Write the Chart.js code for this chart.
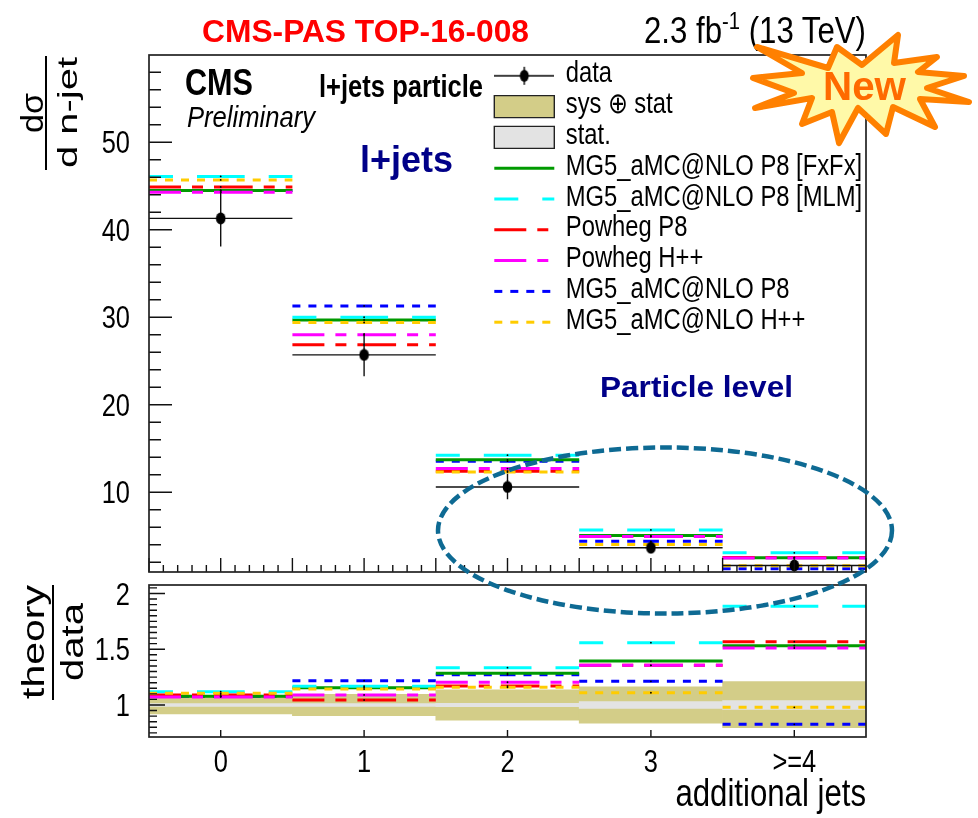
<!DOCTYPE html>
<html>
<head>
<meta charset="utf-8">
<title>CMS-PAS TOP-16-008</title>
<script src="https://cdn.jsdelivr.net/npm/chart.js@4"></script>
<style>
html,body{margin:0;padding:0;background:#fff;}
#wrap{position:relative;width:978px;height:818px;overflow:hidden;background:#fff;}
canvas{position:absolute;left:0;}
#top{top:0;}
#bottom{top:578px;}
svg{position:absolute;left:0;top:0;pointer-events:none;}
svg text{font-family:"Liberation Sans",Arial,sans-serif;fill:#000;}
</style>
</head>
<body>
<div id="wrap">
<canvas id="top" width="978" height="578"></canvas>
<canvas id="bottom" width="978" height="240"></canvas>
<svg width="978" height="818" viewBox="0 0 978 818">
  <text x="202" y="42" font-weight="bold" font-size="31" textLength="327" lengthAdjust="spacingAndGlyphs" style="fill:#ff0000">CMS-PAS TOP-16-008</text>
  <text x="644" y="43" font-size="37" textLength="222" lengthAdjust="spacingAndGlyphs">2.3 fb<tspan dy="-14" font-size="24">-1</tspan><tspan dy="14"> (13 TeV)</tspan></text>
  <text x="185" y="95" font-weight="bold" font-size="37" textLength="68" lengthAdjust="spacingAndGlyphs">CMS</text>
  <text x="187" y="127" font-style="italic" font-size="30" textLength="128" lengthAdjust="spacingAndGlyphs">Preliminary</text>
  <text x="319" y="97" font-weight="bold" font-size="31" textLength="164" lengthAdjust="spacingAndGlyphs">l+jets particle</text>
  <text x="360" y="172" font-weight="bold" font-size="36" textLength="93" lengthAdjust="spacingAndGlyphs" style="fill:#000088">l+jets</text>
  <text x="600" y="397" font-weight="bold" font-size="30" textLength="193" lengthAdjust="spacingAndGlyphs" style="fill:#000088">Particle level</text>

  <text transform="translate(43,133) rotate(-90)" font-size="31" textLength="40" lengthAdjust="spacingAndGlyphs">dσ</text>
  <line x1="46" y1="56" x2="46" y2="170" stroke="#000" stroke-width="2"/>
  <text transform="translate(76.5,168) rotate(-90)" font-size="28" textLength="111" lengthAdjust="spacingAndGlyphs">d n-jet</text>

  <text transform="translate(43.5,699) rotate(-90)" font-size="31" textLength="114" lengthAdjust="spacingAndGlyphs">theory</text>
  <line x1="53" y1="585" x2="53" y2="700" stroke="#000" stroke-width="2"/>
  <text transform="translate(82.5,681) rotate(-90)" font-size="31" textLength="78" lengthAdjust="spacingAndGlyphs">data</text>

  <ellipse cx="665" cy="530.5" rx="227" ry="83" fill="none" stroke="#0e6a93" stroke-width="4.5" stroke-dasharray="12 5"/>

  <polygon points="757,47 828,68 837,47 862,65 898,35 894,63 937,57 918,72 964,76 927,88 969,102 920,99 935,127 893,107 886,134 858,108 839,143 832,112 802,124 812,98 755,108 794,93 753,78 802,73"
           fill="#fff9a8" stroke="#ff8000" stroke-width="6" stroke-linejoin="round"/>
  <text x="823" y="100" font-weight="bold" font-size="40" textLength="83" lengthAdjust="spacingAndGlyphs" style="fill:#ff6a00">New</text>
</svg>
</div>
<script>
// ---------- data ----------
const binCenters = [0, 1, 2, 3, 4];
const xTickLabels = ['0', '1', '2', '3', '>=4'];

// upper panel: d sigma / d n-jet
const dataValues = [41.3, 25.7, 10.6, 3.65, 1.63];
const dataLow    = [38.1, 23.25, 9.2, 3.1, 1.2];
const dataHigh   = [44.5, 28.2, 12.1, 4.3, 2.2];

const fxfxTop   = [44.5, 29.7, 13.7, 5.04, 2.5];
const mlmTop    = [46.1, 30.0, 14.24, 5.69, 3.07];
const powP8Top  = [44.9, 26.85, 12.4, 4.93, 2.55];
const powHppTop = [44.3, 28.0, 12.7, 4.93, 2.47];
const mgP8Top   = [44.5, 31.3, 13.55, 4.39, 1.24];
const mgHppTop  = [45.7, 29.4, 12.3, 4.01, 1.59];

// lower panel: theory / data
const fxfxRatio   = [1.078, 1.155, 1.284, 1.394, 1.532];
const mlmRatio    = [1.119, 1.168, 1.335, 1.559, 1.885];
const powP8Ratio  = [1.09, 1.045, 1.17, 1.356, 1.568];
const powHppRatio = [1.072, 1.09, 1.204, 1.356, 1.511];
const mgP8Ratio   = [1.078, 1.218, 1.272, 1.212, 0.827];
const mgHppRatio  = [1.105, 1.143, 1.159, 1.11, 0.979];

const sysLow  = [0.919, 0.904, 0.865, 0.836, 0.796];
const sysHigh = [1.081, 1.096, 1.135, 1.164, 1.209];
const statLow  = [0.988, 0.988, 0.985, 0.97, 0.961];
const statHigh = [1.012, 1.012, 1.015, 1.03, 1.039];

const legendNames = ['data', 'sys \u2295 stat', 'stat.', 'MG5_aMC@NLO P8 [FxFx]', 'MG5_aMC@NLO P8 [MLM]',
                     'Powheg P8', 'Powheg H++', 'MG5_aMC@NLO P8', 'MG5_aMC@NLO H++'];

// ---------- styles ----------
const GREEN = '#009a00', CYAN = '#00ffff', RED = '#ff0000', MAGENTA = '#ff00ff', BLUE = '#0000ff', ORANGE = '#ffcc00';
const KHAKI = '#d3cd88', GREY = '#e3e3e3', FRAME = '#222222';
const DASH_MLM = [24, 24], DASH_POW = [32, 11, 11, 11], DASH_SHORT = [8, 8];
const LINE_W = 3;
const LABEL_FONT = '"Liberation Sans",Arial,sans-serif';
const NARROW = 0.82; // the original's labels are a condensed Helvetica
const TICK_SIZE = 31, LEGEND_SIZE = 29;

// condense all text the chart draws on this canvas, with small per-font offsets
function condense(canvas) {
  const ctx = canvas.getContext('2d');
  const fill = ctx.fillText.bind(ctx), measure = ctx.measureText.bind(ctx);
  ctx.fillText = (t, x, y) => {
    const size = parseInt(ctx.font.match(/(\d+)px/)[1], 10);
    const dx = size === LEGEND_SIZE ? -3 : 0;
    const dy = size === LEGEND_SIZE ? -1.5 : size === TICK_SIZE ? 2.5 : 0;
    ctx.save(); ctx.translate(x + dx, y + dy); ctx.scale(NARROW, 1); fill(t, 0, 0); ctx.restore();
  };
  ctx.measureText = t => {
    const m = measure(t);
    return {width: m.width * NARROW, actualBoundingBoxAscent: m.actualBoundingBoxAscent,
            actualBoundingBoxDescent: m.actualBoundingBoxDescent};
  };
  return canvas;
}

// ---------- helpers ----------
// every bin's line is drawn as two sub-paths (edge-centre, centre-edge), as in the original
function histPoints(values) {
  const pts = [];
  values.forEach((v, i) => {
    const c = binCenters[i];
    pts.push({x: c - 0.5, y: v}, {x: c, y: v}, {x: c, y: null}, {x: c, y: v}, {x: c + 0.5, y: v}, {x: c + 0.5, y: null});
  });
  return pts;
}
function lineDs(label, values, color, dash, width) {
  return {type: 'line', label, data: histPoints(values), borderColor: color, borderWidth: width || LINE_W,
          borderDash: dash || [], pointRadius: 0, fill: false, tension: 0, spanGaps: false};
}
function theoryDots(seriesList) {
  const pts = [];
  seriesList.forEach(s => s.forEach((v, i) => pts.push({x: binCenters[i], y: v})));
  return {type: 'line', label: 'theory stat', data: pts, showLine: false, pointRadius: 0.9,
          pointBackgroundColor: '#000', pointBorderWidth: 0};
}
function range(from, to, step) {
  const out = [];
  for (let k = 0; from + k * step <= to + 1e-9; k++) out.push(+(from + k * step).toFixed(4));
  return out;
}
function ellipseCanvas() {
  const c = document.createElement('canvas');
  c.width = 11; c.height = 13;
  const g = c.getContext('2d');
  g.fillStyle = '#000';
  g.beginPath(); g.ellipse(5.5, 6.5, 4.8, 6, 0, 0, Math.PI * 2); g.fill();
  return c;
}
function legendDataCanvas() {
  const c = document.createElement('canvas');
  c.width = 60; c.height = 20;
  const g = c.getContext('2d');
  g.strokeStyle = '#000'; g.fillStyle = '#000'; g.lineWidth = 1.4;
  g.beginPath(); g.moveTo(0, 10); g.lineTo(60, 10); g.moveTo(30, 1); g.lineTo(30, 19); g.stroke();
  g.beginPath(); g.ellipse(30, 10, 4.5, 6, 0, 0, Math.PI * 2); g.fill();
  return c;
}

// frame and inward-pointing ROOT style ticks, through the chart's scales
const rootAxes = {
  id: 'rootAxes',
  afterDatasetsDraw(chart, args, o) {
    const {ctx, chartArea: a, scales} = chart;
    ctx.save();
    ctx.strokeStyle = '#111'; ctx.lineWidth = 1.4;
    ctx.beginPath();
    o.yMinor.forEach(v => { const p = scales.y.getPixelForValue(v); ctx.moveTo(a.left, p); ctx.lineTo(a.left + o.yMinorLen, p); });
    o.yMajor.forEach(v => { const p = scales.y.getPixelForValue(v); ctx.moveTo(a.left, p); ctx.lineTo(a.left + o.yMajorLen, p); });
    o.xMinor.forEach(v => { const p = scales.x.getPixelForValue(v); ctx.moveTo(p, a.bottom); ctx.lineTo(p, a.bottom - o.xMinorLen); });
    o.xMajor.forEach(v => { const p = scales.x.getPixelForValue(v); ctx.moveTo(p, a.bottom); ctx.lineTo(p, a.bottom - o.xMajorLen); });
    ctx.stroke();
    ctx.strokeStyle = FRAME; ctx.lineWidth = 1.7;
    ctx.strokeRect(a.left, a.top, a.right - a.left, a.bottom - a.top);
    ctx.restore();
  }
};
const legendPlacer = {
  id: 'legendPlacer',
  afterLayout(chart) {
    const l = chart.legend;
    if (!l || !chart.options.plugins.legend.display) return;
    l.left = 492.5; l.right = 900; l.top = 59.5; l.bottom = 345; l.width = 407.5; l.height = 285.5;
  }
};

function yScale(min, max, major) {
  return {
    type: 'linear', min, max,
    grid: {display: false, drawTicks: false}, border: {display: false},
    afterBuildTicks: s => { s.ticks = major.map(v => ({value: v})); },
    afterFit: s => { s.width = 149; s.paddingTop = 0; s.paddingBottom = 0; },
    ticks: {color: '#000', padding: 19, autoSkip: false, maxRotation: 0, callback: v => String(v),
            font: {family: LABEL_FONT, size: TICK_SIZE}}
  };
}

// ---------- upper panel ----------
new Chart(condense(document.getElementById('top')), {
  data: {
    datasets: [
      lineDs('MG5_aMC@NLO P8', mgP8Top, BLUE, DASH_SHORT),
      lineDs('MG5_aMC@NLO P8 [FxFx]', fxfxTop, GREEN, []),
      lineDs('MG5_aMC@NLO P8 [MLM]', mlmTop, CYAN, DASH_MLM),
      lineDs('Powheg P8', powP8Top, RED, DASH_POW),
      lineDs('Powheg H++', powHppTop, MAGENTA, DASH_POW),
      lineDs('MG5_aMC@NLO H++', mgHppTop, ORANGE, DASH_SHORT),
      theoryDots([mgP8Top, fxfxTop, mlmTop, powP8Top, powHppTop, mgHppTop]),
      {type: 'line', label: 'data bars', data: histPoints(dataValues), borderColor: '#111', borderWidth: 1.4, pointRadius: 0},
      {type: 'line', label: 'data errors',
       data: dataValues.flatMap((v, i) => [{x: binCenters[i], y: dataLow[i]}, {x: binCenters[i], y: dataHigh[i]}, {x: binCenters[i], y: null}]),
       borderColor: '#111', borderWidth: 1.4, pointRadius: 0},
      {type: 'line', label: 'data', data: dataValues.map((v, i) => ({x: binCenters[i], y: v})), showLine: false,
       pointStyle: ellipseCanvas(), pointRadius: 5}
    ].reverse()
  },
  options: {
    responsive: false, animation: false, maintainAspectRatio: false,
    layout: {padding: {left: 0, right: 112, top: 55, bottom: 4.5}},
    scales: {
      x: {type: 'linear', min: -0.5, max: 4.5, display: true, grid: {display: false, drawTicks: false}, border: {display: false},
          ticks: {display: false}, afterFit: s => { s.height = 0; s.paddingLeft = 0; s.paddingRight = 0; }},
      y: yScale(0.88, 59.98, [10, 20, 30, 40, 50])
    },
    plugins: {
      title: {display: false}, tooltip: {enabled: false},
      rootAxes: {xMajor: range(-0.5, 4.5, 0.5), xMinor: range(-0.5, 4.5, 0.1), xMajorLen: 14, xMinorLen: 7,
                 yMajor: [10, 20, 30, 40, 50], yMinor: range(2, 58, 2), yMajorLen: 23, yMinorLen: 12},
      legend: {
        display: true, position: 'chartArea', align: 'start',
        labels: {
          usePointStyle: true, pointStyleWidth: 60, boxHeight: 22, padding: 1.8, color: '#000',
          font: {family: LABEL_FONT, size: LEGEND_SIZE},
          generateLabels: () => {
            const styles = [
              {pointStyle: legendDataCanvas(), fillStyle: '#000', strokeStyle: '#000', lineWidth: 1},
              {pointStyle: 'rect', fillStyle: KHAKI, strokeStyle: '#222', lineWidth: 1.4},
              {pointStyle: 'rect', fillStyle: GREY, strokeStyle: '#222', lineWidth: 1.4},
              {pointStyle: 'line', strokeStyle: GREEN, lineWidth: LINE_W, lineDash: []},
              {pointStyle: 'line', strokeStyle: CYAN, lineWidth: LINE_W, lineDash: DASH_MLM},
              {pointStyle: 'line', strokeStyle: RED, lineWidth: LINE_W, lineDash: DASH_POW},
              {pointStyle: 'line', strokeStyle: MAGENTA, lineWidth: LINE_W, lineDash: DASH_POW},
              {pointStyle: 'line', strokeStyle: BLUE, lineWidth: LINE_W, lineDash: DASH_SHORT},
              {pointStyle: 'line', strokeStyle: ORANGE, lineWidth: LINE_W, lineDash: DASH_SHORT}
            ];
            return legendNames.map((t, i) => Object.assign({text: t, hidden: false, fontColor: '#000'}, styles[i]));
          }
        }
      }
    }
  },
  plugins: [rootAxes, legendPlacer]
});

// ---------- lower panel ----------
new Chart(condense(document.getElementById('bottom')), {
  data: {
    datasets: [
      {type: 'bar', label: 'sys \u2295 stat', data: binCenters.map((c, i) => ({x: c, y: [sysLow[i], sysHigh[i]]})),
       backgroundColor: KHAKI, borderWidth: 0, barPercentage: 1, categoryPercentage: 1, grouped: false},
      {type: 'bar', label: 'stat.', data: binCenters.map((c, i) => ({x: c, y: [statLow[i], statHigh[i]]})),
       backgroundColor: GREY, borderWidth: 0, barPercentage: 1, categoryPercentage: 1, grouped: false},
      lineDs('MG5_aMC@NLO P8', mgP8Ratio, BLUE, DASH_SHORT),
      lineDs('MG5_aMC@NLO P8 [FxFx]', fxfxRatio, GREEN, []),
      lineDs('MG5_aMC@NLO P8 [MLM]', mlmRatio, CYAN, DASH_MLM),
      lineDs('Powheg P8', powP8Ratio, RED, DASH_POW),
      lineDs('Powheg H++', powHppRatio, MAGENTA, DASH_POW),
      lineDs('MG5_aMC@NLO H++', mgHppRatio, ORANGE, DASH_SHORT),
      theoryDots([mgP8Ratio, fxfxRatio, mlmRatio, powP8Ratio, powHppRatio, mgHppRatio])
    ].reverse()
  },
  options: {
    responsive: false, animation: false, maintainAspectRatio: false,
    layout: {padding: {left: 0, right: 112, top: 7, bottom: 0}},
    scales: {
      x: {
        type: 'linear', min: -0.5, max: 4.5, offset: false,
        grid: {display: false, drawTicks: false, offset: false}, border: {display: false},
        afterBuildTicks: s => { s.ticks = binCenters.map(v => ({value: v})); },
        afterFit: s => { s.height = 81; s.paddingLeft = 0; s.paddingRight = 0; },
        ticks: {color: '#000', padding: 5.5, autoSkip: false, maxRotation: 0, minRotation: 0,
                callback: v => xTickLabels[binCenters.indexOf(v)],
                font: {family: LABEL_FONT, size: TICK_SIZE}},
        title: {display: true, text: 'additional jets', align: 'end', color: '#000', padding: {top: 0, bottom: 0},
                font: {family: LABEL_FONT, size: 38}}
      },
      y: yScale(0.713, 2.076, [1, 1.5, 2])
    },
    plugins: {
      legend: {display: false}, title: {display: false}, tooltip: {enabled: false},
      rootAxes: {xMajor: binCenters, xMinor: [], xMajorLen: 7, xMinorLen: 0,
                 yMajor: [1, 1.5, 2], yMinor: range(0.75, 2.05, 0.05), yMajorLen: 16, yMinorLen: 8}
    }
  },
  plugins: [rootAxes, legendPlacer]
});
</script>
</body>
</html>
